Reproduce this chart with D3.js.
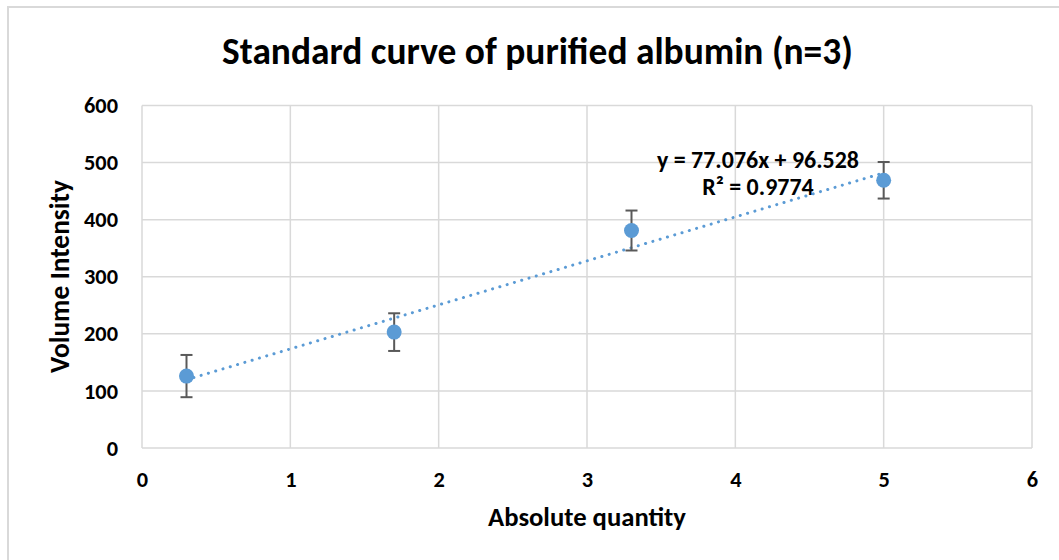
<!DOCTYPE html>
<html><head><meta charset="utf-8">
<script src="https://cdn.jsdelivr.net/npm/d3@7"></script>
<style>
html,body{margin:0;padding:0;background:#fff;}
svg text{font-family:Carlito,Lato,"Open Sans",sans-serif;font-weight:bold;fill:#000;}
</style></head>
<body><svg id="c" width="1059" height="560"></svg>
<script>
const title = "Standard curve of purified albumin (n=3)";
const xTitle = "Absolute quantity";
const yTitle = "Volume Intensity";
const xValues = [0.3, 1.7, 3.3, 5];
const yValues = [126, 203, 381, 469];
const yErrors = [37, 33, 35, 32];
const xTicks = [0, 1, 2, 3, 4, 5, 6];
const yTicks = [0, 100, 200, 300, 400, 500, 600];
const slope = 77.076, intercept = 96.528, r2 = 0.9774;

const svg = d3.select("#c");
const W = 1059, H = 560;
const m = {left:142, right:1032, top:105.5, bottom:448};
const x = d3.scaleLinear().domain([0,6]).range([m.left, m.right]);
const y = d3.scaleLinear().domain([0,600]).range([m.bottom, m.top]);

function fit(t, w){ const n=t.node(); const cur=n.getComputedTextLength();
  const fs=parseFloat(t.style("font-size")); const nf=fs*w/cur; t.style("font-size",nf+"px"); return nf; }

// outer border
svg.append("rect").attr("x",8).attr("y",7).attr("width",W).attr("height",H)
  .attr("fill","none").attr("stroke","#d9d9d9").attr("stroke-width",2);

// gridlines
const grid = svg.append("g");
grid.selectAll("line.h").data(yTicks).join("line")
  .attr("x1",m.left).attr("x2",m.right).attr("y1",d=>y(d)).attr("y2",d=>y(d))
  .attr("stroke","#d9d9d9").attr("stroke-width",1.5);
grid.selectAll("line.v").data(xTicks).join("line")
  .attr("y1",m.top).attr("y2",m.bottom).attr("x1",d=>x(d)).attr("x2",d=>x(d))
  .attr("stroke","#d9d9d9").attr("stroke-width",1.5);

// tick font size measured from "600" (34px wide in reference)
const probe = svg.append("text").style("font-size","20px").text("600");
const tickFs = fit(probe, 34); probe.remove();

// axes (labels only)
const xAxis = svg.append("g").attr("transform",`translate(0,${m.bottom})`)
  .call(d3.axisBottom(x).tickValues(xTicks).tickSize(0).tickPadding(22).tickFormat(d3.format("d")));
const yAxis = svg.append("g").attr("transform",`translate(${m.left},0)`)
  .call(d3.axisLeft(y).tickValues(yTicks).tickSize(0).tickPadding(24).tickFormat(d3.format("d")));
[xAxis,yAxis].forEach(a=>{a.select(".domain").remove();
  a.selectAll("text").style("font-size",tickFs+"px").attr("fill","#000");});
xAxis.selectAll("text").attr("dy","0.75em");

// trendline
svg.append("line")
  .attr("x1",x(xValues[0])).attr("y1",y(slope*xValues[0]+intercept))
  .attr("x2",x(xValues[xValues.length-1])).attr("y2",y(slope*xValues[xValues.length-1]+intercept))
  .attr("stroke","#5b9bd5").attr("stroke-width",3).attr("stroke-linecap","round")
  .attr("stroke-dasharray","0.1 7.5");

// error bars
const eb = svg.append("g").attr("stroke","#595959").attr("stroke-width",2);
xValues.forEach((xv,i)=>{
  const top = y(yValues[i]+yErrors[i]), bot = y(yValues[i]-yErrors[i]), cx = x(xv);
  eb.append("line").attr("x1",cx).attr("x2",cx).attr("y1",top).attr("y2",bot);
  eb.append("line").attr("x1",cx-6).attr("x2",cx+6).attr("y1",top).attr("y2",top);
  eb.append("line").attr("x1",cx-6).attr("x2",cx+6).attr("y1",bot).attr("y2",bot);
});

// points
svg.append("g").selectAll("circle").data(xValues).join("circle")
  .attr("cx",d=>x(d)).attr("cy",(d,i)=>y(yValues[i])).attr("r",7.5)
  .attr("fill","#5b9bd5");

// equation
const eq = svg.append("text").attr("x",758).attr("y",168).attr("text-anchor","middle")
  .style("font-size","20px").text(`y = ${slope}x + ${intercept}`);
const eqFs = fit(eq, 202);
svg.append("text").attr("x",758).attr("y",195).attr("text-anchor","middle")
  .style("font-size",eqFs+"px").text(`R² = ${r2}`);

// titles
const tt = svg.append("text").attr("x",537.5).attr("y",64).attr("text-anchor","middle")
  .style("font-size","29px").text(title);
fit(tt, 631);
const xt = svg.append("text").attr("x",587).attr("y",526).attr("text-anchor","middle")
  .style("font-size","19px").text(xTitle);
fit(xt, 198);
const yt = svg.append("text").attr("transform","translate(69,276.5) rotate(-90)").attr("text-anchor","middle")
  .style("font-size","19px").text(yTitle);
fit(yt, 193);
</script></body></html>
